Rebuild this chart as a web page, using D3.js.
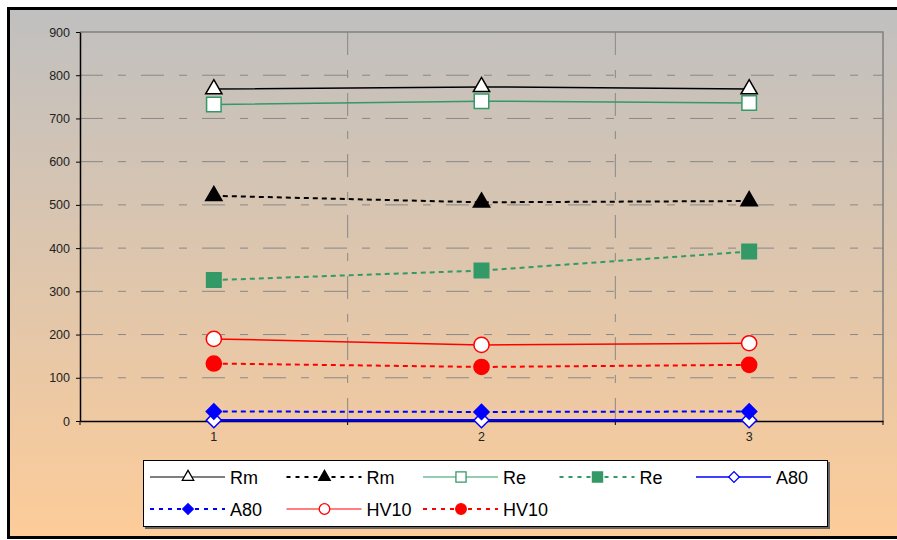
<!DOCTYPE html>
<html>
<head>
<meta charset="utf-8">
<script src="https://cdn.jsdelivr.net/npm/d3@7"></script>
<style>
  body { margin: 0; background: #fff; }
  text { font-family: "Liberation Sans", Arial, sans-serif; }
</style>
</head>
<body>
<div id="grafico"></div>
<script>
// Chart data
var categories = ["1", "2", "3"],
    yTicks = [0, 100, 200, 300, 400, 500, 600, 700, 800, 900];

var rmA  = [768, 773, 768],   // Rm, solid
    rmB  = [521, 506, 509],   // Rm, dotted
    reA  = [732, 740, 736],   // Re, solid
    reB  = [326, 348, 392],   // Re, dotted
    a80A = [2, 2, 2],         // A80, solid
    a80B = [22, 21, 22],      // A80, dotted
    hvA  = [190, 176, 180],   // HV10, solid
    hvB  = [133, 125, 130];   // HV10, dotted

var seriesNames = ["Rm", "Rm", "Re", "Re", "A80", "A80", "HV10", "HV10"];

var w = 897, h = 540,
    margin = {top: 32, right: 14, bottom: 119, left: 80};

var svg = d3.select("#grafico")
            .append("svg")
            .attr("width", w)
            .attr("height", h);

// fondo degradado
var grad = svg.append("defs").append("linearGradient")
    .attr("id", "bg")
    .attr("x1", 0).attr("y1", 0).attr("x2", 0).attr("y2", 1);
grad.append("stop").attr("offset", "0%").attr("stop-color", "#c0c0c0");
grad.append("stop").attr("offset", "100%").attr("stop-color", "#fdcc99");

svg.append("rect")
    .attr("x", 8.5).attr("y", 8.5)
    .attr("width", 900).attr("height", 529)
    .attr("fill", "url(#bg)")
    .attr("stroke", "#000")
    .attr("stroke-width", 3);

var x = d3.scaleBand()
        .domain(categories)
        .range([margin.left, w - margin.right]),
    y = d3.scaleLinear()
        .domain([0, 900])
        .range([h - margin.bottom, margin.top]);

var cx = function (c) { return x(c) + x.bandwidth() / 2; };

var grid = "23,15,8,15";

// horizontal grid
svg.append("g")
    .selectAll("line")
    .data(yTicks.filter(function (d) { return d > 0 && d < 900; }))
    .enter().append("line")
    .attr("x1", x.range()[0]).attr("x2", x.range()[1])
    .attr("y1", function (d) { return y(d); })
    .attr("y2", function (d) { return y(d); })
    .attr("stroke", "#888")
    .attr("stroke-dasharray", grid);

// vertical grid at band edges
var edges = categories.map(function (c) { return x(c); }).concat([x.range()[1]]);
svg.append("g")
    .selectAll("line")
    .data(edges.slice(1, -1))
    .enter().append("line")
    .attr("x1", function (d) { return d; })
    .attr("x2", function (d) { return d; })
    .attr("y1", y(900)).attr("y2", y(0))
    .attr("stroke", "#888")
    .attr("stroke-dasharray", grid);

// plot area border (top / right)
svg.append("path")
    .attr("d", "M" + x.range()[0] + "," + y(900) + "H" + x.range()[1] + "V" + y(0))
    .attr("fill", "none")
    .attr("stroke", "#808080")
    .attr("stroke-width", 1.5);

// ejes
var yAxis = d3.axisLeft(y).tickValues(yTicks).tickSize(4).tickSizeOuter(0).tickPadding(6);
var gy = svg.append("g")
    .attr("transform", "translate(" + x.range()[0] + ",0)")
    .call(yAxis);
gy.select(".domain").attr("stroke", "#000").attr("stroke-width", 1.5);
gy.selectAll(".tick line").attr("stroke", "#000");
gy.selectAll(".tick text").attr("font-size", 12.5).attr("fill", "#222")
    .style("font-family", "'Liberation Sans', Arial, sans-serif");

var xAxis = d3.axisBottom(x).tickSize(0).tickPadding(11);
var gx = svg.append("g")
    .attr("transform", "translate(0," + y(0) + ")")
    .call(xAxis);
gx.select(".domain").attr("stroke", "#000").attr("stroke-width", 1.5);
gx.selectAll(".tick text").attr("font-size", 12.5).attr("fill", "#222")
    .style("font-family", "'Liberation Sans', Arial, sans-serif");
gx.selectAll(".edge")
    .data(edges)
    .enter().append("line")
    .attr("class", "edge")
    .attr("x1", function (d) { return d; })
    .attr("x2", function (d) { return d; })
    .attr("y1", 0).attr("y2", 4)
    .attr("stroke", "#000");

var dots = "5,4";
var series = [
    {vals: rmA,  color: "#000",    width: 1.5, dash: null, shape: "tri",  fill: false},
    {vals: rmB,  color: "#000",    width: 2,   dash: dots, shape: "tri",  fill: true},
    {vals: reA,  color: "#339966", width: 1.5, dash: null, shape: "sq",   fill: false},
    {vals: reB,  color: "#339966", width: 2,   dash: dots, shape: "sq",   fill: true},
    {vals: a80A, color: "#0000ff", width: 2.5, dash: null, shape: "dia",  fill: false},
    {vals: a80B, color: "#0000ff", width: 2,   dash: dots, shape: "dia",  fill: true},
    {vals: hvA,  color: "#ff0000", width: 1.5, dash: null, shape: "circ", fill: false},
    {vals: hvB,  color: "#ff0000", width: 2,   dash: dots, shape: "circ", fill: true}
];

function symbolPath(shape, big) {
    var k = big ? 1 : 0.7;
    if (shape == "tri") return d3.symbol().type(d3.symbolTriangle).size(115 * k * k)();
    if (shape == "sq") return d3.symbol().type(d3.symbolSquare).size(210 * k * k)();
    if (shape == "dia") return d3.symbol().type(d3.symbolSquare).size(115 * k * k)();
    return d3.symbol().type(d3.symbolCircle).size(180 * k * k)();
}

var line = d3.line()
    .x(function (d, i) { return cx(categories[i]); })
    .y(function (d) { return y(d); });

series.forEach(function (s) {
    var g = svg.append("g");
    g.append("path")
        .attr("d", line(s.vals))
        .attr("fill", "none")
        .attr("stroke", s.color)
        .attr("stroke-width", s.width)
        .attr("stroke-dasharray", s.dash);
    g.selectAll("path.mk")
        .data(s.vals)
        .enter().append("path")
        .attr("class", "mk")
        .attr("d", symbolPath(s.shape, true))
        .attr("transform", function (d, i) {
            return "translate(" + cx(categories[i]) + "," + y(d) + ")" + (s.shape == "dia" ? " rotate(45)" : "");
        })
        .attr("fill", s.fill ? s.color : "#fff")
        .attr("stroke", s.color)
        .attr("stroke-width", 1.5);
});

// leyenda
var lg = svg.append("g");
lg.append("rect")
    .attr("x", 145).attr("y", 462).attr("width", 685).attr("height", 67)
    .attr("fill", "#666");
lg.append("rect")
    .attr("x", 143.5).attr("y", 460.5).attr("width", 684).attr("height", 66)
    .attr("fill", "#fff")
    .attr("stroke", "#000");

series.forEach(function (s, i) {
    var col = i % 5, row = Math.floor(i / 5),
        x0 = 150 + col * 136.5,
        y0 = 477 + row * 32;
    lg.append("line")
        .attr("x1", x0).attr("x2", x0 + 75)
        .attr("y1", y0).attr("y2", y0)
        .attr("stroke", s.color)
        .attr("stroke-width", s.width > 2 ? 1.5 : (s.dash ? 2 : 1.2))
        .attr("stroke-dasharray", s.dash ? "4,5" : null);
    lg.append("path")
        .attr("d", symbolPath(s.shape, false))
        .attr("transform", "translate(" + (x0 + 38) + "," + y0 + ")" + (s.shape == "dia" ? " rotate(45)" : ""))
        .attr("fill", s.fill ? s.color : "#fff")
        .attr("stroke", s.color)
        .attr("stroke-width", 1.3);
    lg.append("text")
        .attr("x", x0 + 80).attr("y", y0 + 6.5)
        .attr("font-size", 18)
        .attr("fill", "#000")
        .text(seriesNames[i]);
});
</script>
</body>
</html>
